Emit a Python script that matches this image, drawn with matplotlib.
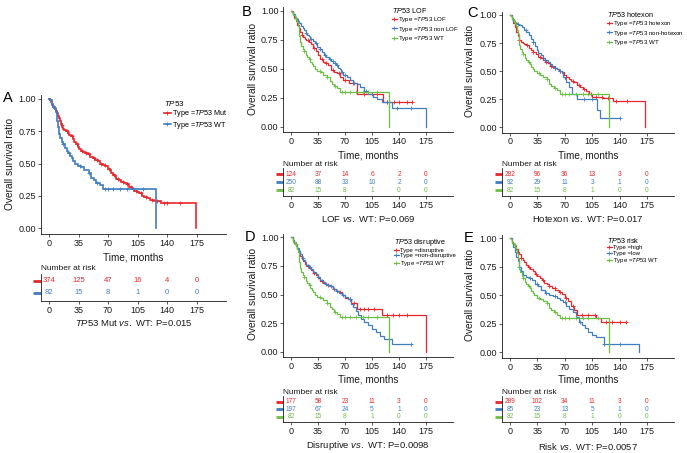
import numpy as np
import matplotlib
matplotlib.use('Agg')
import matplotlib.pyplot as plt

plt.rcParams['font.family'] = ['Liberation Sans', 'DejaVu Sans']
plt.rcParams['mathtext.fontset'] = 'custom'
plt.rcParams['mathtext.rm'] = 'Liberation Sans'
plt.rcParams['mathtext.it'] = 'Liberation Sans:italic'

# ---------------- data ----------------
TICKS_T = [0, 35, 70, 105, 140, 175]
TICKS_S = [0.00, 0.25, 0.50, 0.75, 1.00]

# TP53 WT (n=82) - same curve in every panel
WT_T = [0, 1, 3, 5, 7, 8, 9, 10, 11, 12, 13, 15, 17, 19, 21, 23, 25, 27, 29, 31, 34, 38, 42, 47, 50, 53, 56, 60, 64, 127]
WT_S = [1.00, 0.99, 0.96, 0.94, 0.92, 0.90, 0.87, 0.83, 0.78, 0.73, 0.70, 0.67, 0.65, 0.62, 0.60, 0.58, 0.56, 0.54, 0.52, 0.50, 0.48, 0.47, 0.45, 0.43, 0.39, 0.37, 0.35, 0.33, 0.30, 0.00]
WT_C = [6, 17, 24, 37, 47, 57, 66, 70, 76, 84, 93, 100, 112]

# A: TP53 Mut
MUT_T = [0, 1, 2, 3, 4, 5, 6, 7, 8, 9, 10, 11, 12, 13, 14, 15, 16, 17, 18, 20, 22, 24, 26, 28, 30, 32, 34, 36, 38, 40,
         43, 46, 49, 52, 55, 58, 61, 64, 67, 70, 72, 74, 76, 78, 80, 83, 86, 89, 92, 95, 98, 101, 104, 107, 110,
         113, 116, 120, 125, 133, 174]
MUT_S = [1.00, 0.99, 0.98, 0.97, 0.95, 0.94, 0.93, 0.92, 0.91, 0.90, 0.89, 0.87, 0.85, 0.83, 0.81, 0.80, 0.78, 0.77, 0.76,
         0.75, 0.74, 0.72, 0.71, 0.69, 0.67, 0.65, 0.63, 0.61, 0.60, 0.59, 0.58, 0.57, 0.55, 0.54, 0.53, 0.52, 0.50,
         0.49, 0.48, 0.46, 0.45, 0.43, 0.41, 0.40, 0.38, 0.37, 0.36, 0.35, 0.34, 0.32, 0.30, 0.29, 0.28, 0.27, 0.25,
         0.24, 0.23, 0.22, 0.21, 0.19, 0.00]
MUT_C = [15, 21, 27, 33, 39, 44, 48, 53, 57, 62, 66, 71, 77, 82, 88, 93, 97, 103, 109, 115, 122, 128, 137, 140, 155]

# B: LOF / non LOF
LOF_T = [0, 2, 4, 6, 8, 10, 12, 14, 16, 18, 20, 23, 26, 29, 32, 35, 38, 41, 44, 48, 52, 56, 60, 64, 68, 75, 85, 119, 157]
LOF_S = [1.00, 0.97, 0.94, 0.91, 0.88, 0.85, 0.82, 0.79, 0.77, 0.76, 0.75, 0.73, 0.71, 0.68, 0.65, 0.62, 0.58, 0.56,
         0.55, 0.53, 0.49, 0.47, 0.46, 0.43, 0.40, 0.38, 0.28, 0.21, 0.21]
LOF_C = [14, 22, 30, 40, 46, 54, 62, 70, 80, 95, 105, 112, 125, 133, 140, 150, 157]
NLOF_T = [0, 1, 3, 5, 7, 9, 11, 13, 15, 17, 19, 21, 23, 25, 28, 31, 34, 37, 40, 43, 46, 49, 52, 55, 58, 61, 63, 65,
          68, 72, 76, 80, 86, 90, 95, 100, 106, 112, 118, 131, 175]
NLOF_S = [1.00, 0.99, 0.97, 0.95, 0.93, 0.91, 0.89, 0.87, 0.85, 0.83, 0.81, 0.79, 0.78, 0.76, 0.74, 0.72, 0.69, 0.67,
          0.64, 0.62, 0.60, 0.58, 0.57, 0.55, 0.53, 0.51, 0.50, 0.47, 0.45, 0.43, 0.40, 0.38, 0.37, 0.34, 0.31, 0.28,
          0.26, 0.24, 0.21, 0.165, 0.00]
NLOF_C = [20, 26, 33, 38, 44, 50, 54, 57, 60, 66, 70, 82, 97, 124, 138, 155]

# C: hotexon / non-hotexon
HOT_T = [0, 2, 4, 6, 8, 10, 12, 14, 16, 18, 21, 24, 27, 30, 33, 36, 39, 42, 45, 48, 51, 54, 57, 60, 63, 66, 69, 72,
         75, 78, 81, 85, 89, 93, 97, 101, 105, 118, 131, 173]
HOT_S = [1.00, 0.96, 0.93, 0.89, 0.85, 0.81, 0.78, 0.76, 0.75, 0.74, 0.73, 0.71, 0.69, 0.67, 0.65, 0.63, 0.62, 0.60,
         0.58, 0.57, 0.55, 0.54, 0.53, 0.52, 0.50, 0.49, 0.47, 0.45, 0.43, 0.41, 0.40, 0.38, 0.36, 0.34, 0.32, 0.30,
         0.27, 0.26, 0.23, 0.00]
HOT_C = [12, 22, 30, 38, 46, 52, 58, 64, 72, 80, 88, 95, 103, 110, 117, 125, 135, 150]
NHOT_T = [0, 2, 4, 6, 9, 12, 15, 18, 21, 24, 27, 30, 32, 34, 36, 39, 42, 45, 48, 51, 54, 57, 60, 63, 66, 68, 70, 72,
          75, 79, 85, 111, 115, 140]
NHOT_S = [1.00, 0.97, 0.95, 0.93, 0.92, 0.91, 0.89, 0.87, 0.85, 0.82, 0.79, 0.76, 0.72, 0.69, 0.66, 0.64, 0.62, 0.60,
          0.58, 0.56, 0.55, 0.53, 0.52, 0.50, 0.48, 0.45, 0.43, 0.40, 0.36, 0.30, 0.25, 0.155, 0.085, 0.085]
NHOT_C = [10, 20, 30, 45, 58, 64, 95, 105, 140]

# D: disruptive / non-disruptive
DIS_T = [0, 2, 4, 6, 8, 10, 12, 14, 16, 18, 20, 23, 26, 29, 32, 35, 38, 41, 44, 47, 50, 54, 58, 62, 66, 70, 74, 78,
         85, 118, 175]
DIS_S = [1.00, 0.97, 0.95, 0.92, 0.90, 0.87, 0.84, 0.81, 0.79, 0.77, 0.75, 0.73, 0.71, 0.69, 0.67, 0.64, 0.62, 0.60,
         0.59, 0.58, 0.57, 0.55, 0.53, 0.52, 0.50, 0.47, 0.46, 0.43, 0.37, 0.32, 0.00]
DIS_C = [22, 30, 40, 48, 56, 64, 76, 82, 90, 95, 100, 108, 125, 132, 140, 150]
NDIS_T = [0, 2, 4, 6, 8, 10, 12, 14, 16, 18, 20, 23, 26, 29, 32, 35, 38, 41, 44, 47, 50, 54, 58, 62, 66, 70, 74, 78,
          81, 84, 87, 91, 95, 100, 105, 110, 115, 120, 131, 155]
NDIS_S = [1.00, 0.98, 0.96, 0.93, 0.91, 0.88, 0.85, 0.82, 0.80, 0.78, 0.76, 0.74, 0.72, 0.70, 0.68, 0.65, 0.63, 0.61,
          0.59, 0.58, 0.57, 0.55, 0.53, 0.51, 0.50, 0.48, 0.46, 0.42, 0.39, 0.36, 0.32, 0.29, 0.26, 0.23, 0.20, 0.175,
          0.14, 0.11, 0.064, 0.064]
NDIS_C = [15, 25, 35, 45, 52, 60, 68, 76, 155]

# E: high / low risk
HIGH_T = [0, 2, 4, 6, 8, 10, 12, 14, 16, 18, 20, 23, 26, 29, 32, 35, 38, 41, 44, 47, 50, 54, 58, 62, 66, 70, 74, 78,
          82, 85, 110, 116, 148]
HIGH_S = [1.00, 0.97, 0.95, 0.93, 0.91, 0.88, 0.86, 0.83, 0.81, 0.79, 0.77, 0.75, 0.73, 0.71, 0.69, 0.67, 0.65, 0.63,
          0.61, 0.60, 0.58, 0.56, 0.55, 0.53, 0.51, 0.48, 0.45, 0.41, 0.37, 0.33, 0.30, 0.27, 0.27]
HIGH_C = [14, 24, 33, 42, 50, 57, 64, 72, 80, 92, 100, 108, 122, 130, 140, 148]
LOW_T = [0, 2, 4, 6, 8, 10, 12, 14, 17, 20, 24, 28, 32, 36, 40, 45, 50, 55, 60, 64, 68, 72, 76, 80, 84, 88, 92, 96,
         100, 105, 110, 120, 165]
LOW_S = [1.00, 0.96, 0.92, 0.88, 0.84, 0.80, 0.75, 0.71, 0.68, 0.66, 0.65, 0.63, 0.60, 0.58, 0.55, 0.52, 0.50, 0.49,
         0.48, 0.46, 0.44, 0.41, 0.38, 0.35, 0.31, 0.27, 0.24, 0.21, 0.18, 0.15, 0.13, 0.07, 0.00]
LOW_C = [12, 25, 35, 46, 58, 70, 90, 120, 140]

# numbers at risk
RISK_WT = [82, 15, 8, 1, 0, 0]
RISK_MUT = [374, 125, 47, 16, 4, 0]
RISK_LOF = [124, 37, 14, 6, 2, 0]
RISK_NLOF = [250, 88, 33, 10, 2, 0]
RISK_HOT = [282, 96, 36, 13, 3, 0]
RISK_NHOT = [92, 29, 11, 3, 1, 0]
RISK_DIS = [177, 58, 23, 11, 3, 0]
RISK_NDIS = [197, 67, 24, 5, 1, 0]
RISK_HIGH = [289, 102, 34, 11, 3, 0]
RISK_LOW = [85, 23, 13, 5, 1, 0]

RED, BLUE, GREEN = '#E8262B', '#3F7DC0', '#6CBF45'
DARK = '#1a1a1a'

# ---------------- layout helpers ----------------
W, H = 687, 453
fig = plt.figure(figsize=(W / 100, H / 100), dpi=100)
XLIM = (-10, 210)
YLIM = (-0.047, 1.031)


def main_axes(x0, x175, y1, y0):
    sx = (x175 - x0) / 175.0
    left, right = x0 + XLIM[0] * sx, x0 + XLIM[1] * sx
    sy = y0 - y1
    top, bottom = y1 - (YLIM[1] - 1) * sy, y0 - YLIM[0] * sy
    ax = fig.add_axes([left / W, 1 - bottom / H, (right - left) / W, (bottom - top) / H])
    return ax, left, right


def table_axes(left, right, top, bottom, row_first, row_last, n):
    ax = fig.add_axes([left / W, 1 - bottom / H, (right - left) / W, (bottom - top) / H])
    sp = (row_last - row_first) / (n - 1)
    ax.set_ylim(1 - (bottom - row_last) / sp, n + (row_first - top) / sp)
    return ax


def style(ax, fs):
    for s in ['top', 'right']:
        ax.spines[s].set_visible(False)
    for s in ['left', 'bottom']:
        ax.spines[s].set_linewidth(0.6)
        ax.spines[s].set_color(DARK)
    ax.set_xlim(*XLIM)
    ax.set_xticks(TICKS_T)
    ax.set_xticklabels([str(t) for t in TICKS_T])
    ax.tick_params(length=2, width=0.5, labelsize=fs, pad=1.5, colors=DARK)


def ftext(x, y, s, **kw):
    fig.text(x / W, 1 - y / H, s, ha=kw.pop('ha', 'center'), va=kw.pop('va', 'center'), **kw)


def km(ax, t, s, c, color, lw):
    t = np.asarray(t, float)
    s = np.asarray(s, float)
    line, = ax.step(t, s, where='post', color=color, lw=lw, solid_joinstyle='miter')
    c = np.asarray(c, float)
    idx = np.searchsorted(t, c, side='right') - 1
    marks, = ax.plot(c, s[idx], ls='none', marker='+', ms=2.8, mew=0.6, color=color)
    return line, marks


def panel(letter, letter_xy, x0, x175, y1, y0, series, legend_title, legend_xy, leg_fs, tleg_fs,
          ylab_x, tick_fs, xlab_y, nar_y, tab_top, tab_bottom, rows, tab_fs, foot, foot_y, lw,
          hl, dash_len):
    ax, left, right = main_axes(x0, x175, y1, y0)
    handles, labels = [], []
    for (t, s, c, color, lab, risk) in series:
        ln, mk = km(ax, t, s, c, color, lw)
        handles.append((ln, mk))
        labels.append(lab)
    style(ax, tick_fs)
    ax.set_ylim(*YLIM)
    ax.set_yticks(TICKS_S)
    ax.set_yticklabels(['%.2f' % v for v in TICKS_S])
    ax.legend(handles, labels, title=legend_title, loc='upper left',
              bbox_to_anchor=(legend_xy[0] / W, 1 - legend_xy[1] / H), bbox_transform=fig.transFigure,
              frameon=False, fontsize=leg_fs, title_fontsize=tleg_fs, handlelength=hl,
              handletextpad=0.25, labelspacing=0.05, borderpad=0, borderaxespad=0,
              alignment='left')
    ftext(ylab_x, (y0 + y1) / 2, 'Overall survival ratio', rotation=90, fontsize=7.3, color=DARK)
    ftext((left + right) / 2, xlab_y, 'Time, months', fontsize=7.2, color=DARK)
    ftext(left, nar_y, 'Number at risk', ha='left', fontsize=6, color=DARK)
    ftext(letter_xy[0], letter_xy[1], letter, fontsize=10.5, color='black')

    n = len(series)
    tab = table_axes(left, right, tab_top, tab_bottom, rows[0], rows[-1], n)
    style(tab, tick_fs)
    ypos = list(range(n, 0, -1))
    for (t, s, c, color, lab, risk), yy in zip(series, ypos):
        for tt, r in zip(TICKS_T, risk):
            tab.text(tt, yy, str(r), ha='center', va='center', fontsize=tab_fs, color=color)
    tab.set_yticks(ypos)
    tab.set_yticklabels([''] * n)
    tab.tick_params(axis='y', length=dash_len, width=2.0)
    for tk, (t, s, c, color, lab, risk) in zip(tab.yaxis.get_major_ticks(), series):
        tk.tick1line.set_markeredgecolor(color)
        tk.tick1line.set_color(color)
    ftext((left + right) / 2, foot_y, foot, fontsize=6.8, color=DARK)
    return ax


# ---------- Panel A ----------
panel('A', (8, 98), 49, 196.5, 99, 228,
      [(MUT_T, MUT_S, MUT_C, RED, r'Type =$\it{TP53}$ Mut', RISK_MUT),
       (WT_T, WT_S, WT_C, BLUE, r'Type =$\it{TP53}$ WT', RISK_WT)],
      r'$\it{TP53}$', (164, 99), 5.2, 5.8, 10, 6.5, 258, 268, 274, 301, [281, 293], 5.5,
      r'$\it{TP53}$ Mut $\it{vs.}$ WT: P=0.015', 323, 1.2, 0.9, 6)

# ---------- Panel B ----------
panel('B', (247, 12.5), 291, 426, 10.7, 126.7,
      [(LOF_T, LOF_S, LOF_C, RED, r'Type =$\it{TP53}$ LOF', RISK_LOF),
       (NLOF_T, NLOF_S, NLOF_C, BLUE, r'Type =$\it{TP53}$ non LOF', RISK_NLOF),
       (WT_T, WT_S, WT_C, GREEN, r'Type =$\it{TP53}$ WT', RISK_WT)],
      r'$\it{TP53}$ LOF', (392, 6), 4.4, 5.2, 253, 6.5, 155, 165, 168, 196, [174, 190], 4.7,
      r'LOF $\it{vs.}$ WT: P=0.069', 219, 0.9, 0.8, 5)

# ---------- Panel C ----------
panel('C', (472, 13), 510, 647, 15, 127.3,
      [(HOT_T, HOT_S, HOT_C, RED, r'Type =$\it{TP53}$ hotexon', RISK_HOT),
       (NHOT_T, NHOT_S, NHOT_C, BLUE, r'Type =$\it{TP53}$ non-hotexon', RISK_NHOT),
       (WT_T, WT_S, WT_C, GREEN, r'Type =$\it{TP53}$ WT', RISK_WT)],
      r'$\it{TP53}$ hotexon', (607, 10), 4.4, 5.2, 470, 6.5, 155, 164, 168, 196, [174, 190], 4.7,
      r'Hotexon $\it{vs.}$ WT: P=0.017', 219, 0.9, 0.8, 5)

# ---------- Panel D ----------
panel('D', (250, 237), 291, 426, 237.3, 351.7,
      [(DIS_T, DIS_S, DIS_C, RED, 'Type =disruptive', RISK_DIS),
       (NDIS_T, NDIS_S, NDIS_C, BLUE, 'Type =non-disruptive', RISK_NDIS),
       (WT_T, WT_S, WT_C, GREEN, r'Type =$\it{TP53}$ WT', RISK_WT)],
      r'$\it{TP53}$ disruptive', (394, 236.5), 4.3, 5.2, 253, 6.5, 379, 392, 396, 422, [401.7, 416.7], 4.7,
      r'Disruptive $\it{vs.}$ WT: P=0.0098', 446, 0.9, 0.8, 5)

# ---------- Panel E ----------
panel('E', (469, 237.5), 510, 647, 238.3, 352.3,
      [(HIGH_T, HIGH_S, HIGH_C, RED, 'Type =high', RISK_HIGH),
       (LOW_T, LOW_S, LOW_C, BLUE, 'Type =low', RISK_LOW),
       (WT_T, WT_S, WT_C, GREEN, r'Type =$\it{TP53}$ WT', RISK_WT)],
      r'$\it{TP53}$ risk', (607, 236), 4.3, 5.2, 470, 6.5, 380, 392, 396, 422, [401.7, 416.7], 4.7,
      r'Risk $\it{vs.}$ WT: P=0.0057', 446, 0.9, 0.8, 5)

fig.savefig('out.png', dpi=100)
